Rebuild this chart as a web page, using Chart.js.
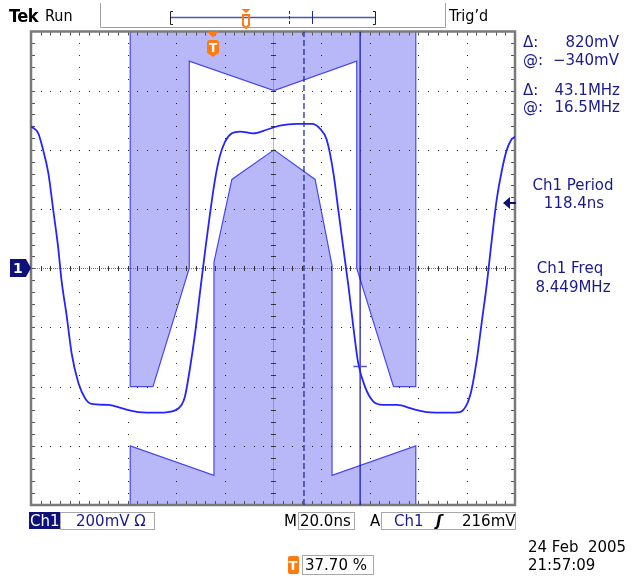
<!DOCTYPE html>
<html>
<head>
<meta charset="utf-8">
<script src="https://cdn.jsdelivr.net/npm/chart.js@4/dist/chart.umd.min.js"></script>
<style>
body { margin: 0; background: #fff; width: 640px; height: 578px; overflow: hidden; position: relative;
       font-family: 'DejaVu Sans', sans-serif; }
canvas { position: absolute; left: 0; top: 0; }
.t { position: absolute; white-space: pre; line-height: 1; font-size: 15px; color: #1a1a8c; transform: translateY(-50%); }
.c { transform: translate(-50%, -50%); }
.r { transform: translate(-100%, -50%); }
.k { color: #000; }
.box { position: absolute; border: 1px solid #a8a8a8; background: #fff; box-sizing: border-box; }
</style>
</head>
<body>
<canvas id="scope" width="640" height="578"></canvas>

<!-- top bar -->
<div class="t k" style="left:9px;top:16px;font-size:18px;font-weight:bold;font-family:'Liberation Sans Narrow','DejaVu Sans Condensed',sans-serif;letter-spacing:-0.5px">Tek</div>
<div class="t k" style="left:45px;top:16px;font-size:16px;font-family:'DejaVu Sans Condensed','DejaVu Sans',sans-serif">Run</div>
<div class="t k" style="left:449px;top:16px;font-size:16px;font-family:'DejaVu Sans Condensed','DejaVu Sans',sans-serif">Trig’d</div>

<!-- right readouts -->
<div class="t" style="left:523px;top:42px">Δ:</div>
<div class="t r" style="left:619px;top:42px">820mV</div>
<div class="t" style="left:523px;top:60px">@:</div>
<div class="t r" style="left:619px;top:60px">−340mV</div>
<div class="t" style="left:523px;top:90px">Δ:</div>
<div class="t r" style="left:620px;top:90px">43.1MHz</div>
<div class="t" style="left:523px;top:107px">@:</div>
<div class="t r" style="left:620px;top:107px">16.5MHz</div>
<div class="t c" style="left:573px;top:185px">Ch1 Period</div>
<div class="t c" style="left:574px;top:203px">118.4ns</div>
<div class="t c" style="left:570px;top:268px">Ch1 Freq</div>
<div class="t c" style="left:573px;top:287px">8.449MHz</div>

<!-- channel marker -->
<div style="position:absolute;left:10px;top:259px;width:21px;height:18px;background:#10107a;clip-path:polygon(0 0,76% 0,100% 50%,76% 100%,0 100%)"></div>
<div class="t" style="left:13px;top:268px;color:#fff;font-weight:bold;font-size:14px">1</div>

<!-- trigger badge -->
<div style="position:absolute;left:207px;top:40px;width:12px;height:17px;background:#ff7a10;clip-path:polygon(15% 0,85% 0,100% 12%,100% 75%,50% 100%,0 75%,0 12%)"></div>
<div class="t c" style="left:213px;top:48px;color:#fff;font-weight:bold;font-size:12px">T</div>

<!-- bottom bar -->
<div style="position:absolute;left:29px;top:512px;width:31px;height:17px;background:#10107a"></div>
<div class="t" style="left:30px;top:521px;color:#fff">Ch1</div>
<div class="box" style="left:60px;top:512px;width:95px;height:18px"></div>
<div class="t" style="left:76px;top:521px">200mV Ω</div>
<div class="t k" style="left:284px;top:521px">M</div>
<div class="box" style="left:298px;top:512px;width:57px;height:18px"></div>
<div class="t k" style="left:300px;top:521px">20.0ns</div>
<div class="t k" style="left:370px;top:521px">A</div>
<div class="box" style="left:381px;top:512px;width:135px;height:18px"></div>
<div class="t" style="left:394px;top:521px">Ch1</div>
<div class="t k" style="left:436px;top:521px;font-weight:bold;font-style:italic">ʃ</div>
<div class="t k" style="left:462px;top:521px">216mV</div>
<div class="t k" style="left:528px;top:547px">24 Feb  2005</div>
<div class="t k" style="left:528px;top:565px">21:57:09</div>
<div style="position:absolute;left:288px;top:556px;width:11px;height:18px;background:#ff7a10;border-radius:2px"></div>
<div class="t c" style="left:293px;top:565px;color:#fff;font-weight:bold;font-size:13px">T</div>
<div class="box" style="left:302px;top:555px;width:72px;height:20px"></div>
<div class="t k" style="left:305px;top:565px">37.70 %</div>

<script>
// waveform, in divisions (x: 0..10, y: -4..4)
const traceX = [0.0, 0.15, 0.25, 0.36, 0.46, 0.56, 0.63, 0.74, 0.84, 0.98, 1.12, 1.25, 1.6, 1.94, 2.22, 2.63,
    2.98, 3.11, 3.18, 3.29, 3.39, 3.49, 3.6, 3.7, 3.8, 3.9, 4.01, 4.15, 4.32, 4.59, 4.87, 5.14, 5.49, 5.8,
    5.97, 6.11, 6.25, 6.35, 6.45, 6.56, 6.66, 6.76, 6.9, 7.07, 7.28, 7.56, 7.9, 8.18, 8.59, 8.86,
    9.0, 9.1, 9.21, 9.31, 9.42, 9.52, 9.62, 9.73, 9.83, 9.93, 10.0];
const traceY = [2.40, 2.28, 2.0, 1.6, 0.98, 0.36, -0.2, -0.82, -1.44, -1.94, -2.2, -2.29, -2.31, -2.38, -2.43, -2.44,
    -2.40, -2.31, -2.17, -1.66, -1.1, -0.42, 0.31, 0.93, 1.49, 1.89, 2.14, 2.28, 2.31, 2.28, 2.34, 2.41, 2.44, 2.44,
    2.36, 2.17, 1.6, 0.98, 0.36, -0.31, -0.99, -1.6, -2.0, -2.25, -2.31, -2.31, -2.38, -2.43, -2.44, -2.43,
    -2.31, -2.06, -1.55, -0.93, -0.25, 0.48, 1.15, 1.66, 2.0, 2.18, 2.22];

// mask regions
const maskTopX = [2.05, 2.05, 2.52, 3.27, 3.27, 5.02, 6.73, 6.73, 7.49, 7.95, 7.95];
const maskTopY = [4, -2.0, -2.0, 0.0, 3.5, 3.0, 3.5, 0.0, -2.0, -2.0, 4];
const maskBotX = [2.05, 2.05, 3.78, 3.78, 4.15, 5.02, 5.87, 6.22, 6.22, 7.95, 7.95];
const maskBotY = [-4, -3.0, -3.5, 0.1, 1.5, 2.0, 1.5, 0.05, -3.5, -3.0, -4];

// cursors
const cursorDashedX = 5.64;
const cursorSolidX = 6.8;
const crossLevel = -1.66;

const pts = (xs, ys) => xs.map((x, i) => ({ x: x, y: ys[i] }));

const scopeGrid = {
    id: 'scopeGrid',
    beforeDatasetDraw(chart, args) {
        if (args.index !== 3) return;
        const ctx = chart.ctx;
        const xs = chart.scales.x, ys = chart.scales.y;
        const a = chart.chartArea;
        ctx.save();
        ctx.fillStyle = '#222';
        // dotted division lines
        for (let i = 1; i < 10; i++) {
            if (i === 5) continue;
            const px = Math.round(xs.getPixelForValue(i));
            for (let j = 1; j < 40; j++) {
                ctx.fillRect(px, Math.round(ys.getPixelForValue(-4 + j * 0.2)), 1, 1);
            }
        }
        for (let j = -3; j <= 3; j++) {
            if (j === 0) continue;
            const py = Math.round(ys.getPixelForValue(j));
            for (let i = 1; i < 50; i++) {
                ctx.fillRect(Math.round(xs.getPixelForValue(i * 0.2)), py, 1, 1);
            }
        }
        // centre cross with ticks
        const cx = Math.round(xs.getPixelForValue(5)), cy = Math.round(ys.getPixelForValue(0));
        ctx.fillStyle = '#777';
        for (let x = a.left; x < a.right; x += 2) ctx.fillRect(x, cy, 1, 1);
        for (let y = a.top; y < a.bottom; y += 2) ctx.fillRect(cx, y, 1, 1);
        ctx.fillStyle = '#333';
        for (let i = 1; i < 50; i++) {
            const px = Math.round(xs.getPixelForValue(i * 0.2));
            ctx.fillRect(px, cy - 2, 1, 5);
        }
        for (let j = 1; j < 40; j++) {
            const py = Math.round(ys.getPixelForValue(-4 + j * 0.2));
            ctx.fillRect(cx - 2, py, 5, 1);
        }
        // frame with ticks
        ctx.strokeStyle = '#7a7a7a';
        ctx.lineWidth = 2.5;
        ctx.strokeRect(a.left, a.top, a.right - a.left, a.bottom - a.top);
        ctx.fillStyle = '#555';
        for (let i = 1; i < 50; i++) {
            const px = Math.round(xs.getPixelForValue(i * 0.2));
            ctx.fillRect(px, a.top + 1, 1, 3);
            ctx.fillRect(px, a.bottom - 4, 1, 3);
        }
        for (let j = 1; j < 40; j++) {
            const py = Math.round(ys.getPixelForValue(-4 + j * 0.2));
            ctx.fillRect(a.left + 1, py, 3, 1);
            ctx.fillRect(a.right - 4, py, 3, 1);
        }
        ctx.restore();
    },
    afterDraw(chart) {
        const ctx = chart.ctx;
        const a = chart.chartArea;
        ctx.save();
        // top status box
        ctx.strokeStyle = '#a0a0a0';
        ctx.lineWidth = 1;
        ctx.beginPath();
        ctx.moveTo(100.5, 3); ctx.lineTo(100.5, 27.5); ctx.lineTo(445.5, 27.5); ctx.lineTo(445.5, 3);
        ctx.stroke();
        // record bar
        ctx.strokeStyle = '#4a58b0';
        ctx.lineWidth = 1.5;
        ctx.beginPath();
        ctx.moveTo(171, 17.5); ctx.lineTo(376, 17.5);
        ctx.stroke();
        ctx.strokeStyle = '#222';
        ctx.lineWidth = 1;
        ctx.beginPath();
        ctx.moveTo(173, 11.5); ctx.lineTo(170.5, 11.5); ctx.lineTo(170.5, 24.5); ctx.lineTo(173, 24.5);
        ctx.moveTo(373, 11.5); ctx.lineTo(375.5, 11.5); ctx.lineTo(375.5, 24.5); ctx.lineTo(373, 24.5);
        ctx.stroke();
        ctx.strokeStyle = '#1a2a9a';
        ctx.beginPath();
        ctx.moveTo(312.5, 11); ctx.lineTo(312.5, 24);
        ctx.stroke();
        ctx.setLineDash([3, 2]);
        ctx.beginPath();
        ctx.moveTo(289.5, 11); ctx.lineTo(289.5, 24);
        ctx.stroke();
        ctx.setLineDash([]);
        ctx.fillStyle = '#ff7a10';
        ctx.beginPath();
        ctx.moveTo(241.5, 9); ctx.lineTo(250.5, 9); ctx.lineTo(246, 13); ctx.closePath();
        ctx.fill();
        ctx.strokeStyle = '#ff7a10';
        ctx.lineWidth = 2;
        ctx.beginPath();
        ctx.moveTo(243, 15); ctx.lineTo(249, 15); ctx.lineTo(249, 25); ctx.lineTo(246, 28); ctx.lineTo(243, 25); ctx.closePath();
        ctx.stroke();
        // trigger position triangle on graticule
        const tx = 213;
        ctx.beginPath();
        ctx.moveTo(tx - 6, a.top); ctx.lineTo(tx + 6, a.top); ctx.lineTo(tx, a.top + 6); ctx.closePath();
        ctx.fill();
        // trigger level arrow on right edge
        ctx.fillStyle = '#10107a';
        ctx.beginPath();
        ctx.moveTo(503, 203); ctx.lineTo(510, 197); ctx.lineTo(510, 209); ctx.closePath();
        ctx.fill();
        ctx.fillRect(509, 202, 7, 2);
        ctx.restore();
    }
};

new Chart(document.getElementById('scope'), {
    type: 'scatter',
    data: {
        datasets: [
            {
                data: pts(traceX, traceY),
                showLine: true,
                borderColor: '#2424ff',
                borderWidth: 1.8,
                pointRadius: 0,
                cubicInterpolationMode: 'monotone',
                fill: false
            },
            {
                data: [{ x: cursorSolidX - 0.14, y: crossLevel }, { x: cursorSolidX + 0.14, y: crossLevel }],
                showLine: true,
                borderColor: '#5a5aa8',
                borderWidth: 1.5,
                pointRadius: 0
            },
            {
                data: [{ x: cursorSolidX, y: -4 }, { x: cursorSolidX, y: 4 }],
                showLine: true,
                borderColor: '#1010b0',
                borderWidth: 1.2,
                pointRadius: 0
            },
            {
                data: [{ x: cursorDashedX, y: -4 }, { x: cursorDashedX, y: 4 }],
                showLine: true,
                borderColor: '#1818a0',
                borderWidth: 1.2,
                borderDash: [6, 3],
                pointRadius: 0
            },
            {
                data: pts(maskTopX, maskTopY),
                showLine: true,
                borderColor: '#4848f0',
                borderWidth: 1.2,
                backgroundColor: '#b8b8f9',
                fill: 'shape',
                pointRadius: 0
            },
            {
                data: pts(maskBotX, maskBotY),
                showLine: true,
                borderColor: '#4848f0',
                borderWidth: 1.2,
                backgroundColor: '#b8b8f9',
                fill: 'shape',
                pointRadius: 0
            }
        ]
    },
    options: {
        responsive: false,
        animation: false,
        events: [],
        devicePixelRatio: 1,
        layout: { padding: { left: 31, top: 31.5, right: 125, bottom: 73 } },
        plugins: { legend: { display: false }, tooltip: { enabled: false } },
        scales: {
            x: { type: 'linear', min: 0, max: 10, display: false },
            y: { type: 'linear', min: -4, max: 4, display: false }
        }
    },
    plugins: [scopeGrid]
});
</script>
</body>
</html>
